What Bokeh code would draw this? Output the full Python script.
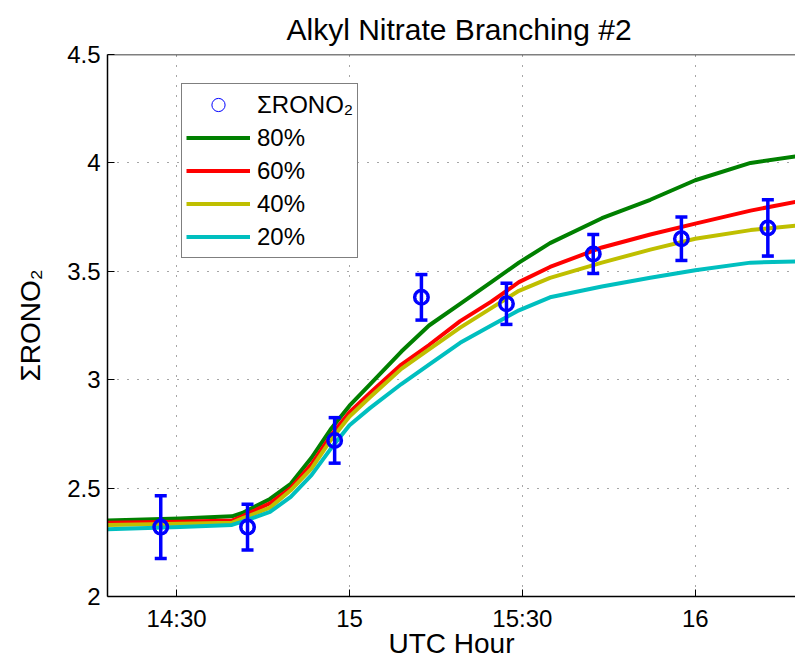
from bokeh.plotting import figure
from bokeh.models import (Range1d, FixedTicker, Legend, LegendItem, Span,
                          Whisker, TeeHead, ColumnDataSource, NumeralTickFormatter)
from bokeh.embed import file_html
from bokeh.resources import INLINE

# ---- data (UTC hour as decimal hours) ----
model_hour = [14.30, 14.51, 14.66, 14.69, 14.77, 14.83, 14.89, 14.945, 15.00, 15.06,
              15.15, 15.23, 15.32, 15.41, 15.49, 15.58, 15.73, 15.87, 16.00, 16.16, 16.29]
branch_80 = [2.35, 2.36, 2.37, 2.385, 2.45, 2.52, 2.64, 2.77, 2.88, 2.98,
             3.13, 3.25, 3.35, 3.45, 3.54, 3.63, 3.745, 3.83, 3.92, 4.00, 4.03]
branch_60 = [2.34, 2.345, 2.35, 2.37, 2.43, 2.50, 2.61, 2.74, 2.85, 2.94,
             3.07, 3.16, 3.27, 3.36, 3.45, 3.52, 3.61, 3.67, 3.72, 3.78, 3.82]
branch_40 = [2.33, 2.335, 2.34, 2.36, 2.41, 2.49, 2.59, 2.72, 2.83, 2.92,
             3.05, 3.14, 3.24, 3.33, 3.41, 3.47, 3.54, 3.60, 3.65, 3.69, 3.71]
branch_20 = [2.31, 2.32, 2.33, 2.345, 2.39, 2.46, 2.56, 2.68, 2.79, 2.87,
             2.98, 3.07, 3.17, 3.25, 3.32, 3.38, 3.43, 3.47, 3.505, 3.54, 3.545]

obs_hour = [14.454, 14.705, 14.957, 15.208, 15.454, 15.705, 15.96, 16.21]
obs_rono2 = [2.32, 2.32, 2.72, 3.38, 3.35, 3.58, 3.65, 3.70]
obs_err = [0.145, 0.105, 0.105, 0.105, 0.095, 0.09, 0.10, 0.13]

x_ticks = [14.5, 15.0, 15.5, 16.0]
x_tick_labels = ["14:30", "15", "15:30", "16"]
y_ticks = [2.0, 2.5, 3.0, 3.5, 4.0, 4.5]

series_names = ["80%", "60%", "40%", "20%"]
series_colors = ["#008000", "#ff0000", "#bfbf00", "#00bfbf"]

FONT = "Liberation Sans"

p = figure(width=795, height=661, output_backend="svg", toolbar_location=None,
           x_range=Range1d(14.30, 16.29), y_range=Range1d(y_ticks[0], y_ticks[-1]),
           min_border_left=107, min_border_right=0, min_border_top=54,
           min_border_bottom=64, title="Alkyl Nitrate Branching #2")
p.outline_line_color = None
p.background_fill_color = "white"
p.border_fill_color = "white"

p.title.text_font = FONT
p.title.text_font_size = "30px"
p.title.text_font_style = "normal"
p.title.text_color = "black"
p.title.align = "left"
p.title.offset = 179
p.title.standoff = 17

# axes
def style_axis(ax):
    ax.axis_line_color = "black"
    ax.axis_line_width = 1.5
    ax.major_tick_in = 7
    ax.major_tick_out = 0
    ax.major_tick_line_color = "black"
    ax.major_tick_line_width = 1
    ax.minor_tick_line_color = None
    ax.major_label_text_font = FONT
    ax.major_label_text_font_size = "24px"
    ax.major_label_text_color = "black"
    ax.axis_label_text_font = FONT
    ax.axis_label_text_font_style = "normal"
    ax.axis_label_text_color = "black"

xax = p.xaxis[0]
style_axis(xax)
xax.ticker = FixedTicker(ticks=x_ticks)
xax.major_label_overrides = {t: l for t, l in zip(x_ticks, x_tick_labels)}
xax.axis_label = "UTC Hour"
xax.axis_label_text_font_size = "28px"
xax.major_label_standoff = 8
xax.axis_label_standoff = -7

yax = p.yaxis[0]
style_axis(yax)
yax.ticker = FixedTicker(ticks=y_ticks)
yax.formatter = NumeralTickFormatter(format="0.[0]")
yax.axis_label = "ΣRONO₂"
yax.axis_label_text_font_size = "28px"
yax.major_label_standoff = 7
yax.axis_label_standoff = 18

# top border of the axes box
p.add_layout(Span(location=y_ticks[-1], dimension="width", line_color="black",
                  line_width=1.5))

for g in (p.xgrid[0], p.ygrid[0]):
    g.grid_line_color = "black"
    g.grid_line_alpha = 0.7
    g.grid_line_dash = "1 9"
    g.grid_line_width = 1
p.xgrid[0].ticker = FixedTicker(ticks=x_ticks)
p.ygrid[0].ticker = FixedTicker(ticks=y_ticks)

# model curves
lines = []
for vals, col in zip([branch_80, branch_60, branch_40, branch_20], series_colors):
    r = p.line(model_hour, vals, line_color=col, line_width=4, line_join="round")
    lines.append(r)

# observations with error bars
src = ColumnDataSource(dict(x=obs_hour, y=obs_rono2,
                            lo=[v - e for v, e in zip(obs_rono2, obs_err)],
                            hi=[v + e for v, e in zip(obs_rono2, obs_err)]))
wh = Whisker(source=src, base="x", lower="lo", upper="hi", dimension="height",
             line_color="#0000ff", line_width=3.5, level="glyph",
             upper_head=TeeHead(size=12, line_color="#0000ff", line_width=3.5),
             lower_head=TeeHead(size=12, line_color="#0000ff", line_width=3.5))
p.add_layout(wh)
# thin circle used for the legend entry (hidden under the bold markers)
thin = p.scatter("x", "y", source=src, marker="circle", size=11, fill_color=None,
                 line_color="#0000ff", line_width=1)
p.scatter("x", "y", source=src, marker="circle", size=14, fill_color=None,
          line_color="#0000ff", line_width=3)

items = [LegendItem(label="ΣRONO₂", renderers=[thin])]
for name, r in zip(series_names, lines):
    items.append(LegendItem(label=name, renderers=[r]))
legend = Legend(items=items, location=(74, 338))
legend.label_text_font = FONT
legend.label_text_font_size = "24px"
legend.label_text_color = "black"
legend.glyph_width = 64
legend.glyph_height = 33
legend.label_height = 33
legend.label_standoff = 7
legend.spacing = 0
legend.padding = 4
legend.margin = 0
legend.border_line_color = "black"
legend.border_line_width = 1.5
legend.background_fill_color = "white"
legend.background_fill_alpha = 1
p.add_layout(legend)

open("out.html", "w").write(file_html(p, INLINE))
